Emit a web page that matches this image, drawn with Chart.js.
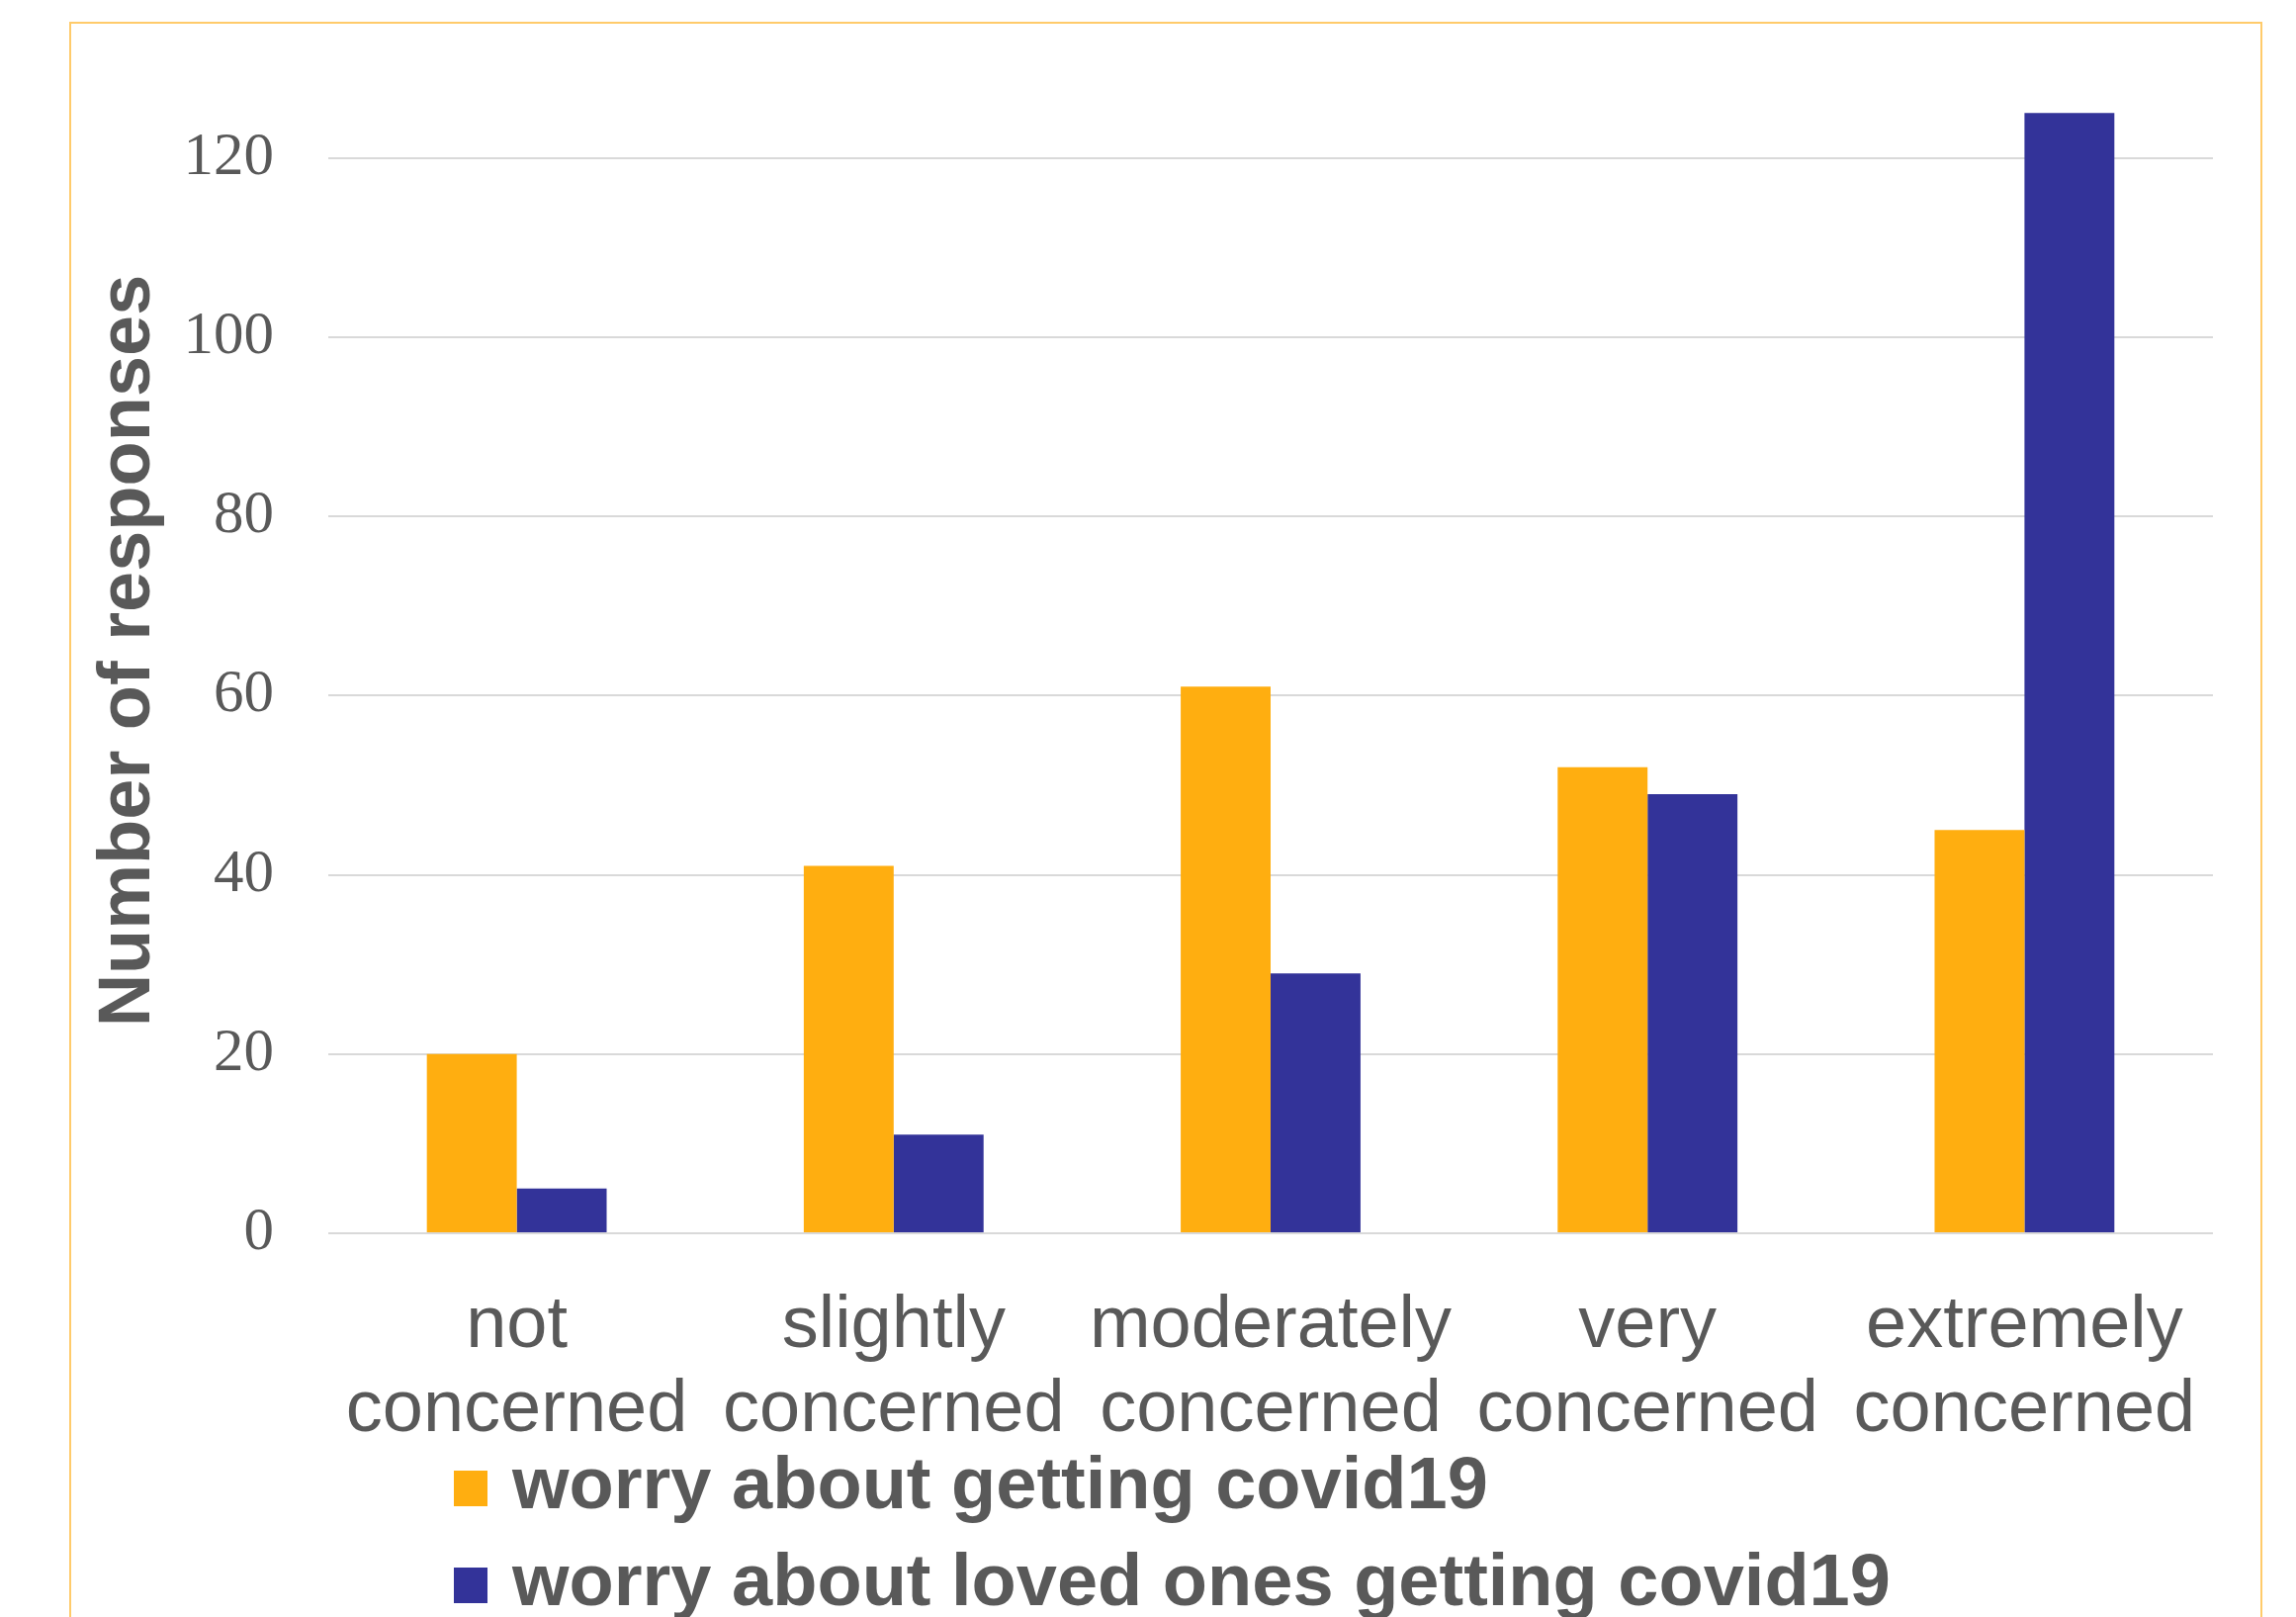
<!DOCTYPE html>
<html><head><meta charset="utf-8">
<script src="https://cdn.jsdelivr.net/npm/chart.js@4"></script>
<style>
html,body{margin:0;padding:0;background:#fff;}
#wrap{position:relative;width:2322px;height:1635px;overflow:hidden;background:#fff;}
#frame{position:absolute;left:70px;top:22px;width:2214px;height:1700px;border:2px solid #FFCB6B;pointer-events:none;}
canvas{position:absolute;left:0;top:0;}
</style></head><body>
<div id="wrap"><canvas id="c" width="2322" height="1680"></canvas><div id="frame"></div></div>
<script>
const categories = [["not","concerned"],["slightly","concerned"],["moderately","concerned"],["very","concerned"],["extremely","concerned"]];
const seriesNames = ["worry about getting covid19","worry about loved ones getting covid19"];
const worrySelf = [20, 41, 61, 52, 45];
const worryLoved = [5, 11, 29, 49, 125];
const yAxisTitle = "Number of responses";
const yMin = 0, yMax = 130, yStep = 20;

const textGray = "#595959";
const legendShift = {
  id: "legendShift",
  afterLayout(chart) {
    const lg = chart.legend;
    if (lg) {
      lg.left += 115; lg.right += 115;
      lg.top -= 25; lg.bottom -= 25;
    }
  }
};

new Chart(document.getElementById("c"), {
  type: "bar",
  data: {
    labels: categories,
    datasets: [
      { label: seriesNames[0], data: worrySelf, backgroundColor: "#FFAE10", borderWidth: 0 },
      { label: seriesNames[1], data: worryLoved, backgroundColor: "#333399", borderWidth: 0 }
    ]
  },
  options: {
    responsive: false,
    animation: false,
    devicePixelRatio: 1,
    layout: { padding: { left: 86, right: 84, top: 69, bottom: 5 } },
    datasets: { bar: { categoryPercentage: 0.477, barPercentage: 1.0 } },
    plugins: {
      tooltip: { enabled: false },
      legend: {
        position: "bottom",
        align: "start",
        fullSize: false,
        labels: {
          color: textGray,
          font: { family: "Liberation Sans", size: 74, weight: "bold" },
          boxWidth: 10,
          boxHeight: 12,
          padding: 24,
          generateLabels(chart) {
            const items = Chart.defaults.plugins.legend.labels.generateLabels(chart);
            items.forEach(it => { it.strokeStyle = it.fillStyle; it.lineWidth = 24; it.lineJoin = "miter"; });
            return items;
          }
        }
      }
    },
    scales: {
      x: {
        grid: { display: false, drawTicks: false },
        border: { display: false },
        ticks: {
          color: textGray,
          font: { family: "Liberation Sans", size: 74, lineHeight: 85/74 },
          padding: 52,
          maxRotation: 0,
          autoSkip: false
        },
        afterFit(scale) { scale.height = 222; }
      },
      y: {
        min: yMin,
        max: yMax,
        grid: { color: "#D9D9D9", lineWidth: 2, drawTicks: true, tickLength: 25, tickColor: "rgba(0,0,0,0)" },
        border: { display: false },
        ticks: {
          stepSize: yStep,
          includeBounds: false,
          color: textGray,
          font: { family: "Liberation Serif", size: 61 },
          padding: 30
        },
        title: {
          display: true,
          text: yAxisTitle,
          color: textGray,
          font: { family: "Liberation Sans", size: 74, weight: "bold", lineHeight: 1.2 },
          padding: { top: 0, bottom: 0 }
        },
        afterFit(scale) { scale.width = 246; }
      }
    }
  },
  plugins: [legendShift]
});
</script>
</body></html>
